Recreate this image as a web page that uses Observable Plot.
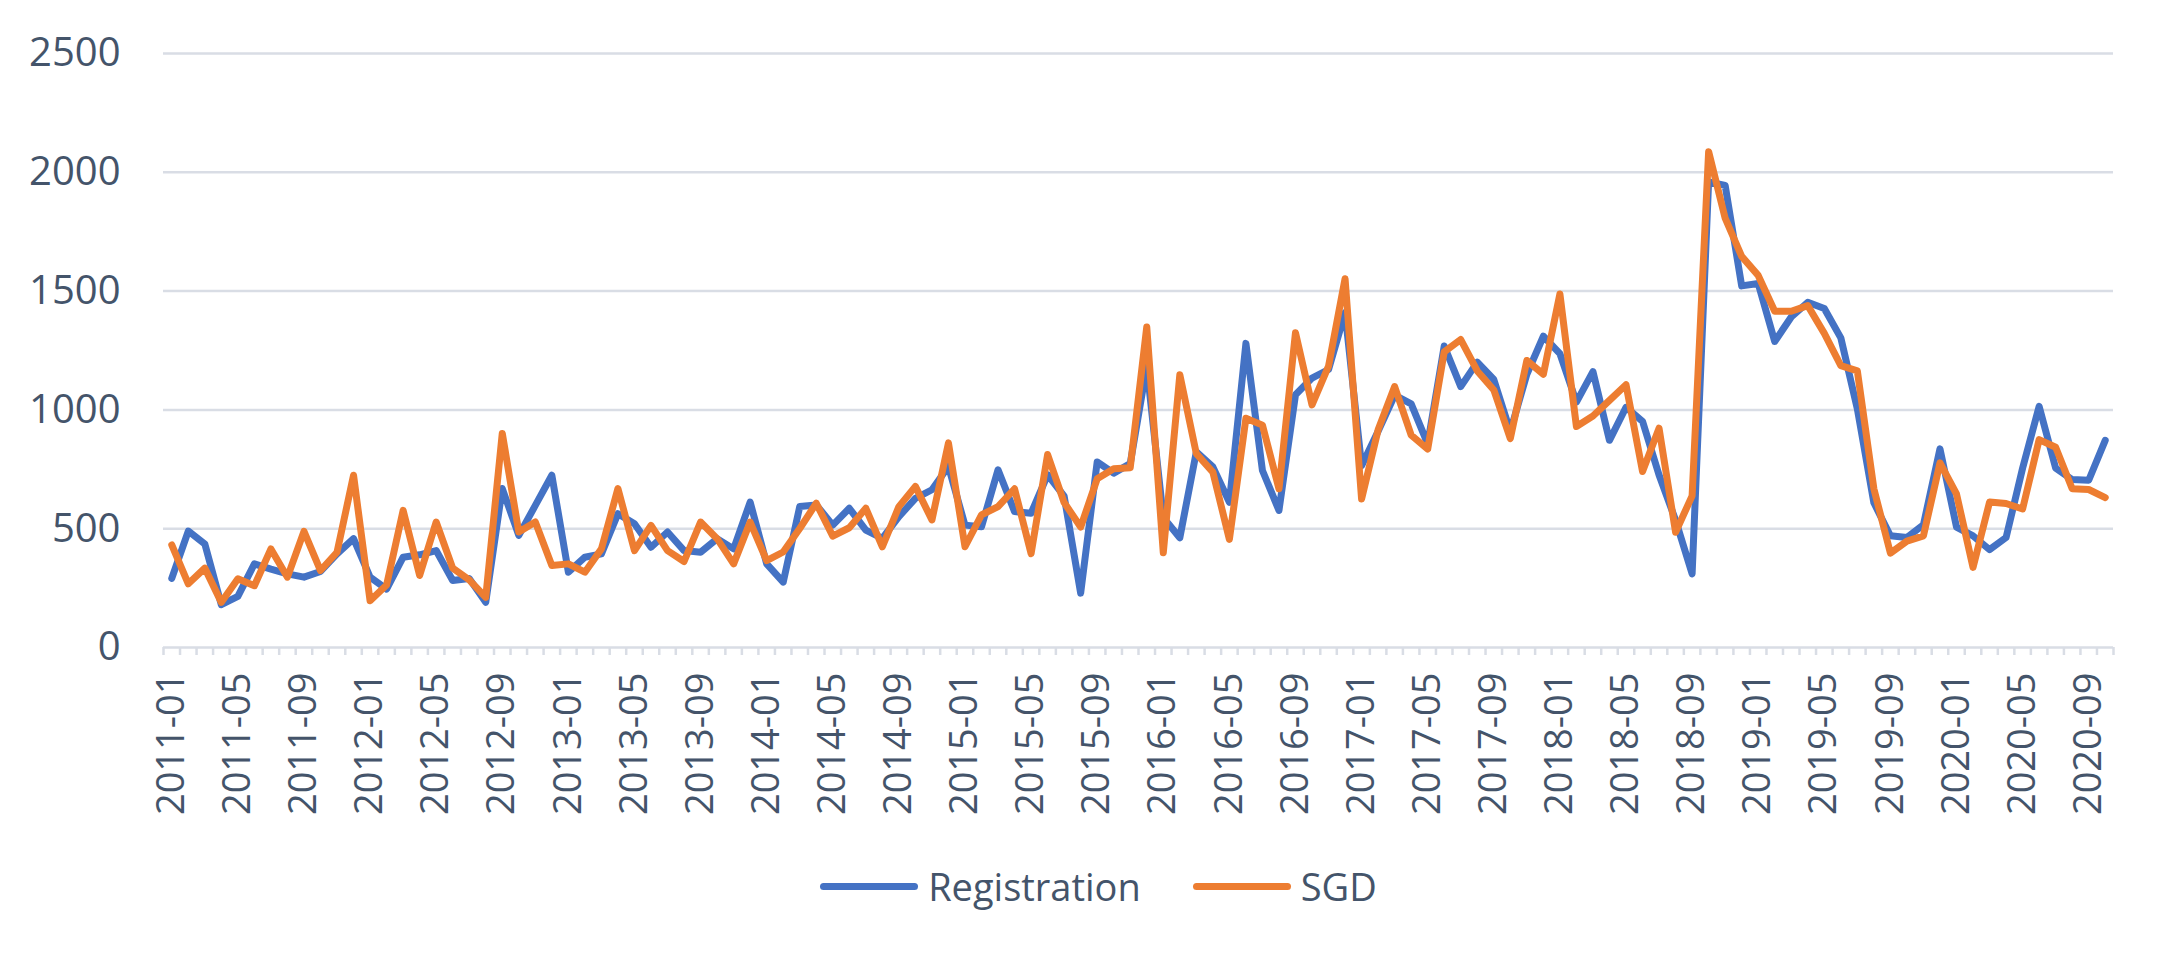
<!DOCTYPE html>
<html>
<head>
<meta charset="utf-8">
<script src="https://cdn.jsdelivr.net/npm/d3@7"></script>
<script src="https://cdn.jsdelivr.net/npm/@observablehq/plot@0.6"></script>
<style>
  body { margin: 0; background: #fff; font-family: "Open Sans", sans-serif; }
  #graph svg { display: block; }
  #legend { display: flex; justify-content: center; align-items: center; height: 80px; margin-top: -14px; padding-left: 30px; gap: 52px; color: #44546a; font-size: 38px; }
  #legend .item { display: flex; align-items: center; gap: 10px; }
  #legend .swatch { width: 98px; height: 7px; border-radius: 4px; }
</style>
</head>
<body>
<div id="graph"></div>
<div id="legend"></div>
<script>
const months = [
  "2011-01","2011-02","2011-03","2011-04","2011-05","2011-06","2011-07","2011-08","2011-09","2011-10","2011-11","2011-12",
  "2012-01","2012-02","2012-03","2012-04","2012-05","2012-06","2012-07","2012-08","2012-09","2012-10","2012-11","2012-12",
  "2013-01","2013-02","2013-03","2013-04","2013-05","2013-06","2013-07","2013-08","2013-09","2013-10","2013-11","2013-12",
  "2014-01","2014-02","2014-03","2014-04","2014-05","2014-06","2014-07","2014-08","2014-09","2014-10","2014-11","2014-12",
  "2015-01","2015-02","2015-03","2015-04","2015-05","2015-06","2015-07","2015-08","2015-09","2015-10","2015-11","2015-12",
  "2016-01","2016-02","2016-03","2016-04","2016-05","2016-06","2016-07","2016-08","2016-09","2016-10","2016-11","2016-12",
  "2017-01","2017-02","2017-03","2017-04","2017-05","2017-06","2017-07","2017-08","2017-09","2017-10","2017-11","2017-12",
  "2018-01","2018-02","2018-03","2018-04","2018-05","2018-06","2018-07","2018-08","2018-09","2018-10","2018-11","2018-12",
  "2019-01","2019-02","2019-03","2019-04","2019-05","2019-06","2019-07","2019-08","2019-09","2019-10","2019-11","2019-12",
  "2020-01","2020-02","2020-03","2020-04","2020-05","2020-06","2020-07","2020-08","2020-09","2020-10"
];

const registration = [
  291, 490, 436, 180, 215, 352, 330, 310, 296, 320, 394, 458,
  296, 246, 380, 390, 408, 282, 290, 190, 669, 472, 598, 725,
  317, 380, 394, 563, 521, 422, 486, 408, 401, 458, 415, 612,
  352, 275, 593, 600, 515, 586, 494, 459, 551, 628, 664, 762,
  515, 508, 748, 572, 565, 727, 637, 229, 781, 734, 774, 1184,
  547, 462, 823, 760, 611, 1280, 745, 577, 1064, 1134, 1170, 1410,
  765, 910, 1062, 1025, 857, 1269, 1098, 1201, 1128, 909, 1150, 1310,
  1237, 1033, 1161, 872, 1011, 952, 726, 536, 310, 1960, 1945, 1522,
  1532, 1288, 1391, 1453, 1427, 1303, 1004, 609, 470, 463, 517, 836,
  507, 470, 412, 463, 755, 1015, 755, 707, 704, 872
];

const sgd = [
  432, 268, 334, 190, 289, 260, 415, 296, 489, 324, 401, 725,
  197, 263, 577, 303, 528, 334, 285, 211, 901, 486, 528, 345,
  352, 317, 415, 669, 408, 514, 408, 362, 528, 458, 352, 528,
  366, 402, 501, 607, 469, 504, 586, 424, 593, 678, 537, 861,
  424, 558, 593, 668, 395, 812, 610, 507, 710, 752, 757, 1349,
  399, 1148, 816, 738, 455, 965, 936, 668, 1325, 1021, 1184, 1552,
  625, 916, 1098, 894, 835, 1244, 1296, 1164, 1084, 879, 1208, 1150,
  1488, 930, 974, 1040, 1106, 741, 923, 485, 638, 2087, 1807, 1646,
  1566, 1415, 1415, 1439, 1322, 1186, 1164, 668, 397, 448, 470, 777,
  646, 337, 612, 606, 583, 875, 843, 668, 665, 631
];

const yTicks = [0, 500, 1000, 1500, 2000, 2500];
const seriesNames = ["Registration", "SGD"];
const seriesColors = ["#4472c4", "#ed7d31"];

const rows = months.map((m, i) => ({i: i, month: m, registration: registration[i], sgd: sgd[i]}));
// month boundaries carry the small ticks, every 4th month gets a label
const bounds = d3.range(months.length + 1).map(k => k - 0.5);
const labelIdx = d3.range(months.length).filter(i => i % 4 == 0);

const gridColor = "#d9dde5";

const chart = Plot.plot({
  width: 2167,
  height: 860,
  marginTop: 53,
  marginBottom: 213,
  marginLeft: 163,
  marginRight: 54,
  style: {fontFamily: "'Open Sans', sans-serif", fontSize: "38px", color: "#44546a", background: "#fff"},
  x: {domain: [-0.5, months.length - 0.5], label: null},
  y: {domain: [0, 2500], label: null},
  marks: [
    Plot.gridY(yTicks, {stroke: gridColor, strokeOpacity: 1, strokeWidth: 2.5}),
    Plot.axisX(bounds, {tickSize: 8, tickFormat: () => "", stroke: gridColor, strokeWidth: 2.5, label: null}),
    Plot.axisX(labelIdx, {tickSize: 0, tickPadding: 25, tickRotate: -90, tickFormat: i => months[i], label: null}),
    Plot.axisY(yTicks, {tickSize: 0, tickPadding: 43, tickFormat: d => String(d), fontSize: 40, label: null}),
    Plot.lineY(rows, {x: "i", y: "registration", stroke: seriesColors[0], strokeWidth: 7}),
    Plot.lineY(rows, {x: "i", y: "sgd", stroke: seriesColors[1], strokeWidth: 7})
  ]
});

d3.select("#graph").append(() => chart);

const items = d3.select("#legend").selectAll(".item")
  .data(seriesNames)
  .join("div")
  .attr("class", "item");
items.append("div").attr("class", "swatch").style("background", (d, i) => seriesColors[i]);
items.append("span").text(d => d);
</script>
</body>
</html>
